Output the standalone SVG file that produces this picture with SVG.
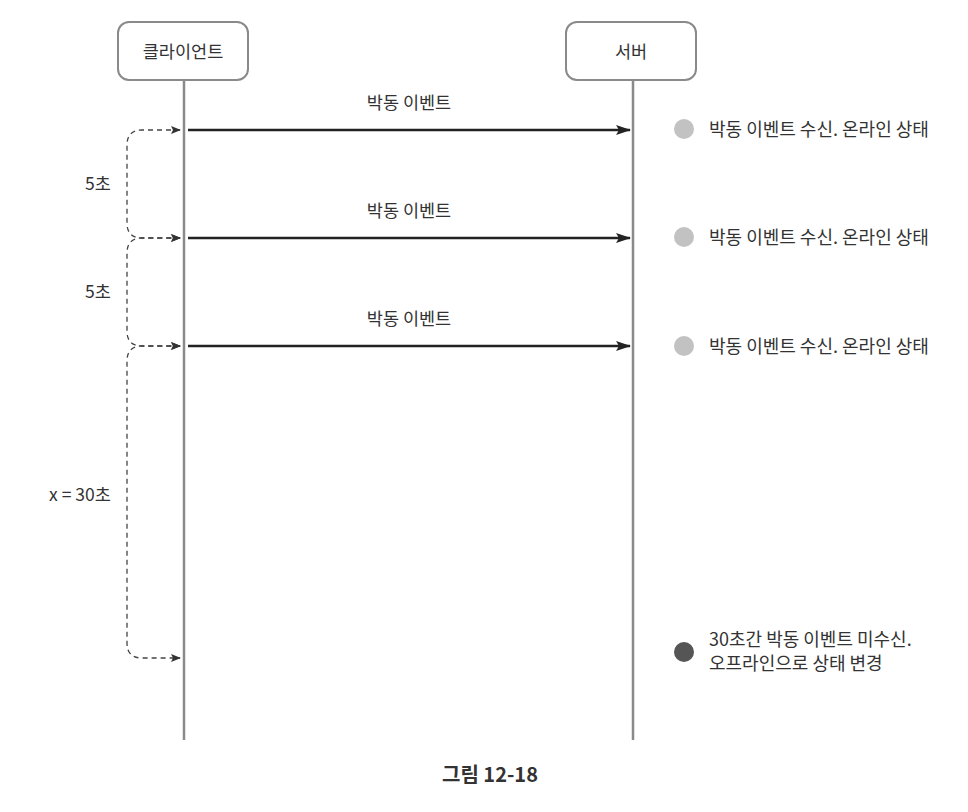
<svg xmlns="http://www.w3.org/2000/svg" width="968" height="812" viewBox="0 0 968 812">
<style>
text{font-family:"Noto Sans CJK KR","Noto Sans",sans-serif;fill:#333;font-size:17.5px}
.st{font-size:18px}
.box{fill:#fff;stroke:#8a8a8a;stroke-width:2}
.life{stroke:#8a8a8a;stroke-width:2.5;fill:none}
.msg{stroke:#222;stroke-width:2.4;fill:none}
.br{stroke:#444;stroke-width:1.3;stroke-dasharray:5 4;fill:none}
.mid{text-anchor:middle}
</style>
<defs>
<marker id="ah" viewBox="0 0 15 10" refX="14" refY="5" markerWidth="15" markerHeight="10" markerUnits="userSpaceOnUse" orient="auto"><path d="M0,0 L15,5 L0,10 L3,5 Z" fill="#222"/></marker>
<marker id="dh" viewBox="0 0 10 8" refX="9" refY="4" markerWidth="10" markerHeight="8" markerUnits="userSpaceOnUse" orient="auto-start-reverse"><path d="M0,0 L10,4 L0,8 L2,4 Z" fill="#333"/></marker>
</defs>
<g id="client"><rect class="box" x="118" y="22" width="130" height="58" rx="11"/><text class="mid" x="183" y="58">클라이언트</text></g>
<g id="server"><rect class="box" x="566" y="22" width="130" height="58" rx="11"/><text class="mid" x="631" y="58">서버</text></g>
<g id="lifelines"><line class="life" x1="184" y1="80" x2="184" y2="740"/><line class="life" x1="633" y1="80" x2="633" y2="740"/></g>
<g id="connectors">
<path class="msg" d="M188,130 H630" marker-end="url(#ah)"/>
<path class="msg" d="M188,238 H630" marker-end="url(#ah)"/>
<path class="msg" d="M188,346 H630" marker-end="url(#ah)"/>
<path class="br" d="M180,130 H142 Q127,130 127,145 V223 Q127,238 142,238 H180" marker-start="url(#dh)" marker-end="url(#dh)"/>
<path class="br" d="M180,238 H142 Q127,238 127,253 V331 Q127,346 142,346 H180" marker-start="url(#dh)" marker-end="url(#dh)"/>
<path class="br" d="M180,346 H142 Q127,346 127,361 V643 Q127,658 142,658 H180" marker-start="url(#dh)" marker-end="url(#dh)"/>
</g>
<g id="labels">
<text class="mid" x="409" y="109">박동 이벤트</text>
<text class="mid" x="409" y="217">박동 이벤트</text>
<text class="mid" x="409" y="325">박동 이벤트</text>
<text x="85" y="190">5초</text>
<text x="85" y="298">5초</text>
<text x="49" y="501">x = 30초</text>
</g>
<g id="status1"><circle cx="684" cy="129" r="10" fill="#c2c2c2"/><text class="st" x="709" y="136">박동 이벤트 수신. 온라인 상태</text></g>
<g id="status2"><circle cx="684" cy="237" r="10" fill="#c2c2c2"/><text class="st" x="709" y="244">박동 이벤트 수신. 온라인 상태</text></g>
<g id="status3"><circle cx="684" cy="346" r="10" fill="#c2c2c2"/><text class="st" x="709" y="353">박동 이벤트 수신. 온라인 상태</text></g>
<g id="status4"><circle cx="684" cy="652" r="10" fill="#555"/><text class="st" x="709" y="646">30초간 박동 이벤트 미수신.</text><text class="st" x="709" y="670">오프라인으로 상태 변경</text></g>
<text class="mid" x="490" y="782" style="font-weight:bold;font-size:20px">그림 12-18</text>
</svg>
